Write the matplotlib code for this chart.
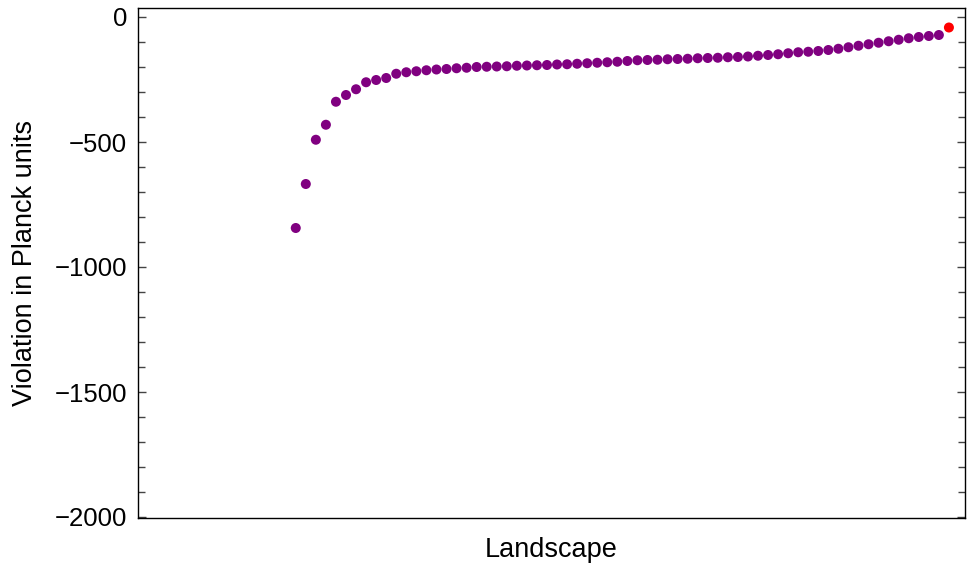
import numpy as np
import matplotlib
matplotlib.use("Agg")
import matplotlib.pyplot as plt
from matplotlib.ticker import MultipleLocator

plt.rcParams['font.family'] = ['Liberation Sans', 'DejaVu Sans']

# Violation (Planck units) for each vacuum of the landscape, sorted
violation = [
    -844, -668, -491, -431, -339, -312, -289, -261, -252, -244,
    -227, -221, -217, -213, -210, -208, -205, -203, -200, -199,
    -198, -197, -195, -194, -193, -192, -190, -189, -187, -185,
    -183, -181, -179, -176, -173, -172, -171, -169, -168, -167,
    -165, -164, -163, -161, -160, -158, -155, -152, -149, -145,
    -141, -139, -136, -132, -127, -121, -115, -109, -103, -97,
    -91, -85, -80, -76, -72,
]
highlight = [-42]

x_main = np.arange(len(violation))
x_high = np.arange(len(violation), len(violation) + len(highlight))

fig = plt.figure(figsize=(9.71, 5.71), dpi=100)
ax = fig.add_axes([138 / 971, 53 / 571, 827 / 971, 510 / 571])

ax.scatter(x_main, violation, s=52, color='#800080', edgecolors='none', zorder=3)
ax.scatter(x_high, highlight, s=52, color='#ff0000', edgecolors='none', zorder=3)

ax.set_xlim(-15.7, 66.6)
ax.set_ylim(-2004, 36)

ax.yaxis.set_major_locator(MultipleLocator(500))
ax.yaxis.set_minor_locator(MultipleLocator(100))
ax.set_xticks([])
ax.tick_params(axis='y', which='both', direction='in', left=True, right=True,
               labelsize=18.5, color='#444444', width=1.0)
ax.tick_params(axis='y', which='major', length=6, pad=8)
ax.tick_params(axis='y', which='minor', length=5)
ax.yaxis.set_major_formatter(plt.FuncFormatter(
    lambda v, p: f"{int(v)}".replace('-', '\u2212')))

for sp in ax.spines.values():
    sp.set_linewidth(1.0)
    sp.set_color('black')

ax.set_xlabel('Landscape', fontsize=19.5, labelpad=14)
ax.set_ylabel('Violation in Planck units', fontsize=19.5, labelpad=12)

fig.savefig('out.png', dpi=100)
